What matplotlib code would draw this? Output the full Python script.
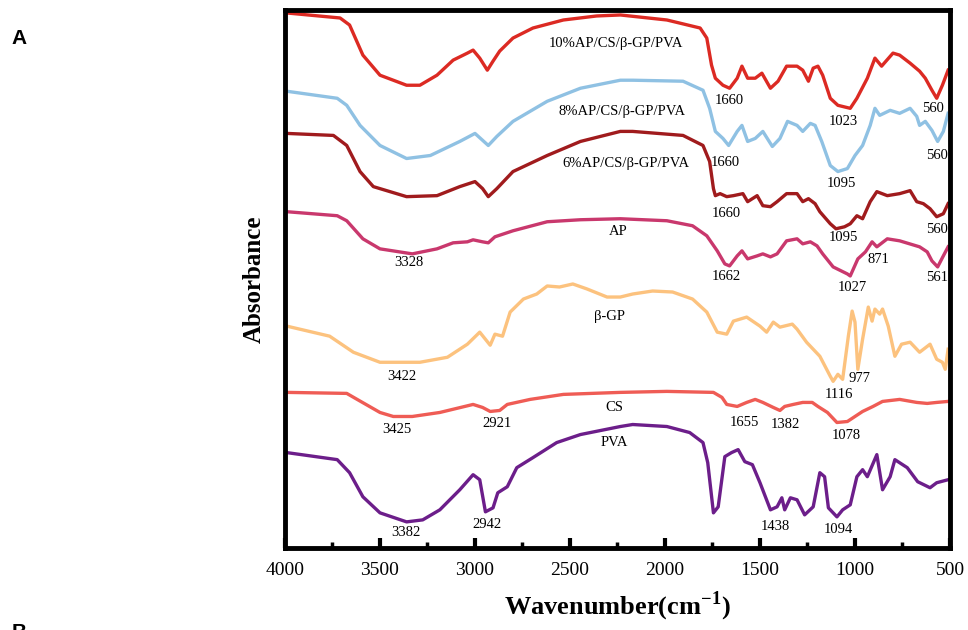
"""
FTIR spectra of AP/CS/beta-GP/PVA hydrogels and their components (panel A).
"""
import matplotlib
matplotlib.use("Agg")
import matplotlib.pyplot as plt
from matplotlib.ticker import MultipleLocator

# wavenumber (cm-1) and stacked absorbance (a.u., offsets included)
wn_10 = [3990, 3710, 3660, 3590, 3500, 3360, 3290, 3200, 3115, 3040, 3010, 2975, 2935, 2905,
         2870, 2800, 2695, 2535, 2360, 2235, 1990, 1815, 1780, 1755, 1735, 1695, 1660, 1620,
         1595, 1565, 1525, 1490, 1445, 1405, 1360, 1305, 1275, 1245, 1220, 1195, 1170, 1130,
         1090, 1025, 990, 935, 895, 860, 800, 765, 710, 660, 630, 595, 570, 540, 510]
ab_10 = [5.33, 5.28, 5.21, 4.91, 4.71, 4.61, 4.61, 4.71, 4.86, 4.93, 4.96, 4.88, 4.76, 4.85,
         4.95, 5.08, 5.18, 5.26, 5.30, 5.31, 5.26, 5.18, 5.08, 4.81, 4.68, 4.61, 4.58, 4.68,
         4.80, 4.68, 4.68, 4.73, 4.58, 4.65, 4.80, 4.80, 4.76, 4.65, 4.78, 4.80, 4.71, 4.48,
         4.41, 4.38, 4.48, 4.68, 4.88, 4.80, 4.93, 4.91, 4.83, 4.75, 4.68, 4.56, 4.48, 4.61, 4.76]

wn_8 = [3990, 3725, 3675, 3605, 3500, 3360, 3235, 3080, 3000, 2930, 2885, 2800, 2620, 2445,
        2235, 2170, 1905, 1800, 1765, 1735, 1695, 1665, 1620, 1595, 1565, 1525, 1485, 1435,
        1395, 1355, 1305, 1275, 1235, 1210, 1175, 1130, 1090, 1040, 1000, 960, 920, 895, 870,
        815, 765, 710, 675, 660, 630, 595, 565, 535, 510]
ab_8 = [4.55, 4.48, 4.41, 4.21, 4.01, 3.88, 3.91, 4.05, 4.13, 4.01, 4.10, 4.25, 4.45, 4.58,
        4.66, 4.66, 4.65, 4.56, 4.38, 4.15, 4.08, 4.01, 4.15, 4.21, 4.05, 4.08, 4.15, 4.00,
        4.08, 4.25, 4.21, 4.15, 4.23, 4.21, 4.05, 3.81, 3.75, 3.78, 3.91, 4.01, 4.21, 4.38,
        4.31, 4.36, 4.33, 4.38, 4.30, 4.21, 4.25, 4.16, 4.05, 4.15, 4.33]

wn_6 = [3990, 3745, 3675, 3605, 3535, 3360, 3200, 3080, 3000, 2960, 2930, 2885, 2800, 2620,
        2445, 2235, 2170, 1905, 1800, 1765, 1745, 1735, 1710, 1675, 1640, 1590, 1565, 1515,
        1485, 1445, 1410, 1360, 1305, 1275, 1245, 1210, 1185, 1130, 1100, 1055, 1025, 990,
        960, 920, 885, 830, 765, 710, 675, 640, 605, 570, 535, 510]
ab_6 = [4.13, 4.11, 4.01, 3.75, 3.60, 3.50, 3.51, 3.60, 3.65, 3.58, 3.50, 3.58, 3.75, 3.91,
        4.05, 4.15, 4.15, 4.11, 4.01, 3.85, 3.58, 3.51, 3.53, 3.50, 3.51, 3.53, 3.45, 3.51,
        3.41, 3.40, 3.45, 3.53, 3.53, 3.45, 3.48, 3.43, 3.35, 3.23, 3.18, 3.20, 3.23, 3.31,
        3.28, 3.45, 3.55, 3.51, 3.53, 3.56, 3.45, 3.43, 3.38, 3.30, 3.33, 3.43]

wn_ap = [3990, 3725, 3675, 3590, 3500, 3330, 3200, 3115, 3040, 3010, 2960, 2930, 2895, 2800,
         2620, 2445, 2235, 1990, 1855, 1780, 1725, 1685, 1660, 1620, 1595, 1565, 1515, 1485,
         1445, 1410, 1360, 1305, 1275, 1235, 1200, 1170, 1115, 1040, 1025, 985, 945, 910, 885,
         830, 765, 660, 620, 595, 565, 535, 510]
ab_ap = [3.35, 3.31, 3.26, 3.08, 2.98, 2.93, 2.98, 3.04, 3.05, 3.07, 3.05, 3.04, 3.10, 3.16,
         3.25, 3.27, 3.28, 3.26, 3.21, 3.11, 2.96, 2.83, 2.81, 2.91, 2.96, 2.88, 2.91, 2.93,
         2.90, 2.93, 3.06, 3.08, 3.03, 3.05, 3.01, 2.93, 2.80, 2.73, 2.71, 2.88, 2.95, 3.05,
         3.00, 3.08, 3.06, 3.00, 2.95, 2.86, 2.80, 2.91, 3.00]

wn_gp = [3990, 3765, 3640, 3500, 3290, 3145, 3040, 2975, 2920, 2895, 2855, 2815, 2745, 2675,
         2620, 2555, 2485, 2410, 2305, 2235, 2170, 2065, 1960, 1855, 1780, 1725, 1675, 1640,
         1570, 1500, 1465, 1430, 1395, 1330, 1305, 1255, 1185, 1130, 1115, 1090, 1065, 1035,
         1015, 1000, 985, 960, 930, 910, 895, 870, 855, 825, 790, 755, 710, 660, 605, 570,
         540, 525, 510]
ab_gp = [2.21, 2.11, 1.95, 1.85, 1.85, 1.90, 2.03, 2.15, 2.02, 2.13, 2.11, 2.35, 2.48, 2.53,
         2.61, 2.60, 2.63, 2.58, 2.50, 2.50, 2.53, 2.56, 2.55, 2.48, 2.35, 2.15, 2.13, 2.26,
         2.30, 2.21, 2.15, 2.25, 2.20, 2.23, 2.18, 2.05, 1.91, 1.71, 1.66, 1.73, 1.68, 2.11,
         2.36, 2.25, 1.78, 2.08, 2.40, 2.26, 2.38, 2.33, 2.38, 2.21, 1.91, 2.03, 2.05, 1.95,
         2.03, 1.88, 1.85, 1.78, 1.98]

wn_cs = [3990, 3675, 3620, 3500, 3430, 3330, 3185, 3010, 2960, 2920, 2870, 2830, 2710, 2535,
         2235, 1990, 1745, 1700, 1675, 1620, 1570, 1525, 1485, 1430, 1395, 1370, 1325, 1275,
         1225, 1195, 1145, 1095, 1040, 1000, 960, 905, 855, 765, 675, 620, 570, 510]
ab_cs = [1.55, 1.54, 1.48, 1.35, 1.31, 1.31, 1.35, 1.43, 1.40, 1.36, 1.37, 1.43, 1.48, 1.53,
         1.55, 1.56, 1.55, 1.50, 1.43, 1.41, 1.45, 1.48, 1.45, 1.40, 1.37, 1.41, 1.43, 1.45,
         1.45, 1.41, 1.35, 1.25, 1.26, 1.31, 1.36, 1.41, 1.46, 1.48, 1.45, 1.44, 1.45, 1.46]

wn_pva = [3990, 3725, 3660, 3590, 3500, 3360, 3275, 3185, 3080, 3010, 2975, 2945, 2905, 2880,
          2830, 2780, 2695, 2570, 2445, 2235, 2170, 1990, 1870, 1800, 1775, 1745, 1720, 1685,
          1650, 1615, 1580, 1540, 1500, 1445, 1410, 1385, 1370, 1340, 1305, 1265, 1220, 1185,
          1160, 1140, 1095, 1065, 1025, 990, 960, 935, 885, 855, 815, 790, 725, 670, 605, 570, 510]
ab_pva = [0.95, 0.88, 0.75, 0.51, 0.35, 0.26, 0.28, 0.38, 0.58, 0.73, 0.68, 0.36, 0.40, 0.55,
          0.61, 0.80, 0.90, 1.05, 1.13, 1.21, 1.23, 1.21, 1.15, 1.05, 0.85, 0.35, 0.41, 0.91,
          0.95, 0.98, 0.86, 0.83, 0.65, 0.38, 0.41, 0.50, 0.38, 0.50, 0.48, 0.33, 0.41, 0.75,
          0.71, 0.40, 0.31, 0.38, 0.43, 0.71, 0.78, 0.71, 0.93, 0.58, 0.71, 0.88, 0.80, 0.66,
          0.60, 0.65, 0.68]

spectra = [
    (wn_10, ab_10, "#dc2a23"),
    (wn_8, ab_8, "#8fc1e3"),
    (wn_6, ab_6, "#a01b1d"),
    (wn_ap, ab_ap, "#c9386d"),
    (wn_gp, ab_gp, "#fcc27e"),
    (wn_cs, ab_cs, "#ef5c55"),
    (wn_pva, ab_pva, "#6c1e8a"),
]

# sample names: (text, wavenumber, absorbance)
names = [
    ("10%AP/CS/\u03b2-GP/PVA", 2260, 5.03),
    ("8%AP/CS/\u03b2-GP/PVA", 2225, 4.35),
    ("6%AP/CS/\u03b2-GP/PVA", 2205, 3.83),
    ("AP", 2245, 3.15),
    ("\u03b2-GP", 2290, 2.31),
    ("CS", 2265, 1.40),
    ("PVA", 2265, 1.05),
]

# band assignments: (text, wavenumber, absorbance)
bands = [
    ("1660", 1660, 4.46), ("1023", 1063, 4.25), ("560", 590, 4.38),
    ("1660", 1684, 3.84), ("1095", 1069, 3.63), ("560", 569, 3.91),
    ("1660", 1675, 3.33), ("1095", 1063, 3.09), ("560", 569, 3.17),
    ("3328", 3347, 2.84), ("1662", 1675, 2.70), ("1027", 1016, 2.59),
    ("871", 879, 2.87), ("561", 569, 2.69),
    ("3422", 3384, 1.71), ("977", 974, 1.69), ("1116", 1084, 1.53),
    ("3425", 3411, 1.18), ("2921", 2884, 1.24), ("1655", 1584, 1.25),
    ("1382", 1368, 1.23), ("1078", 1047, 1.12),
    ("3382", 3363, 0.15), ("2942", 2937, 0.23), ("1438", 1421, 0.21), ("1094", 1090, 0.18),
]

serif = "Liberation Serif"
plt.rcParams["mathtext.fontset"] = "custom"
plt.rcParams["mathtext.rm"] = "Liberation Serif"
plt.rcParams["mathtext.bf"] = "Liberation Serif:bold"

fig = plt.figure(figsize=(9.68, 6.3), dpi=100)
ax = fig.add_axes([0.2944, 0.1302, 0.687, 0.8540])

for wn, ab, col in spectra:
    ax.plot(wn, ab, color=col, lw=2.4, solid_joinstyle="round")

for txt, x, y in names:
    ax.text(x, y, txt, family=serif, fontsize=10.5, ha="center", va="center")
for txt, x, y in bands:
    ax.text(x, y, txt, family=serif, fontsize=10.5, ha="center", va="center")

ax.set_xlim(4000, 500)
ax.set_ylim(0, 5.36)
ax.set_yticks([])
ax.xaxis.set_major_locator(MultipleLocator(500))
ax.xaxis.set_minor_locator(MultipleLocator(250))
ax.tick_params(axis="x", which="major", direction="in", length=7, width=3,
               labelsize=14, pad=10)
ax.tick_params(axis="x", which="minor", direction="in", length=4, width=2.5)
for lab in ax.get_xticklabels():
    lab.set_family(serif)
for sp in ax.spines.values():
    sp.set_linewidth(3.5)

ax.set_xlabel("Wavenumber(cm$^{\\mathbf{-1}}$)", family=serif, fontsize=19,
              fontweight="bold", labelpad=8)
ax.set_ylabel("Absorbance", family=serif, fontsize=18, fontweight="bold", labelpad=14)

fig.text(0.012, 0.93, "A", family="Liberation Sans", fontsize=15, fontweight="bold")
fig.text(0.012, -0.012, "B", family="Liberation Sans", fontsize=15, fontweight="bold")

fig.savefig("out.png", dpi=100)
